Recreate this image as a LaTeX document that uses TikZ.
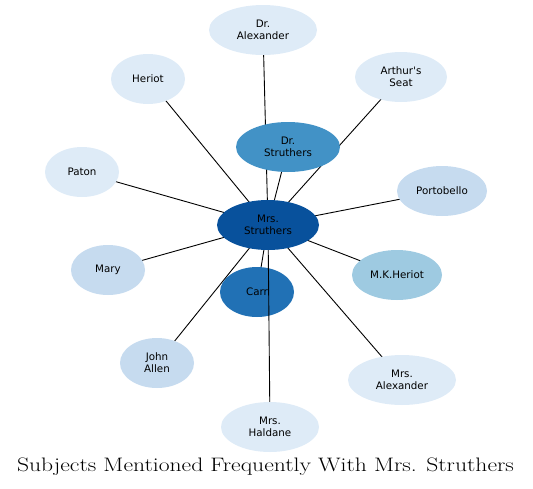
\documentclass[tikz,border=0pt]{standalone}
\usepackage{fontspec}
\newfontfamily\nodefont{DejaVu Sans}
\usetikzlibrary{shapes.geometric}
\definecolor{c1}{HTML}{DEEBF7}
\definecolor{c2}{HTML}{C6DBEF}
\definecolor{c3}{HTML}{9ECAE1}
\definecolor{c4}{HTML}{4292C6}
\definecolor{c5}{HTML}{2171B5}
\definecolor{c6}{HTML}{08519C}
\tikzset{
  ent/.style={ellipse, inner sep=0pt, minimum height=50pt, align=center,
    font=\nodefont\fontsize{10.3}{12}\selectfont, text=black},
  link/.style={draw=black, line width=0.9pt}
}
\begin{document}
\begin{tikzpicture}[x=1pt,y=-1pt]
\useasboundingbox (0,0) rectangle (533,488);
% coordinates for centres
\coordinate (pA) at (263,30);
\coordinate (pH) at (148,79);
\coordinate (pS) at (401,77);
\coordinate (pD) at (288,147);
\coordinate (pP) at (82,172);
\coordinate (pB) at (442,191);
\coordinate (pM) at (268,225);
\coordinate (pY) at (108,270);
\coordinate (pK) at (397,275);
\coordinate (pC) at (257,292);
\coordinate (pJ) at (157,363);
\coordinate (pX) at (402,380);
\coordinate (pL) at (270,427);
% edges (centre to centre, under the nodes)
\foreach \t in {pA,pH,pS,pD,pP,pB,pY,pK,pC,pJ,pX}
  \draw[link] (pM) -- (\t);
% nodes
\node[ent, fill=c1, minimum width=108pt] (alex) at (pA) {Dr.\\Alexander};
\node[ent, fill=c1, minimum width=74pt] (heriot) at (pH) {Heriot};
\node[ent, fill=c1, minimum width=92pt] (seat) at (pS) {Arthur's\\Seat};
\node[ent, fill=c4, minimum width=104pt] (drs) at (pD) {Dr.\\Struthers};
\node[ent, fill=c1, minimum width=74pt] (paton) at (pP) {Paton};
\node[ent, fill=c2, minimum width=90pt] (porto) at (pB) {Portobello};
\node[ent, fill=c2, minimum width=74pt] (mary) at (pY) {Mary};
\node[ent, fill=c3, minimum width=90pt] (mkh) at (pK) {M.K.Heriot};
\node[ent, fill=c5, minimum width=74pt] (carr) at (pC) {Carr};
\node[ent, fill=c2, minimum width=74pt] (john) at (pJ) {John\\Allen};
\node[ent, fill=c1, minimum width=108pt] (mrsa) at (pX) {Mrs.\\Alexander};
\node[ent, fill=c1, minimum width=98pt] (hald) at (pL) {Mrs.\\Haldane};
\draw[link] (pM) -- (hald);
\node[ent, fill=c6, minimum width=102pt] (mrs) at (pM) {Mrs.\\Struthers};
\node[inner sep=0pt] (title) at (265.5,467) {\scalebox{1.21}[1]{\fontsize{19.5}{22}\selectfont Subjects Mentioned Frequently With Mrs. Struthers}};
\end{tikzpicture}
\end{document}
